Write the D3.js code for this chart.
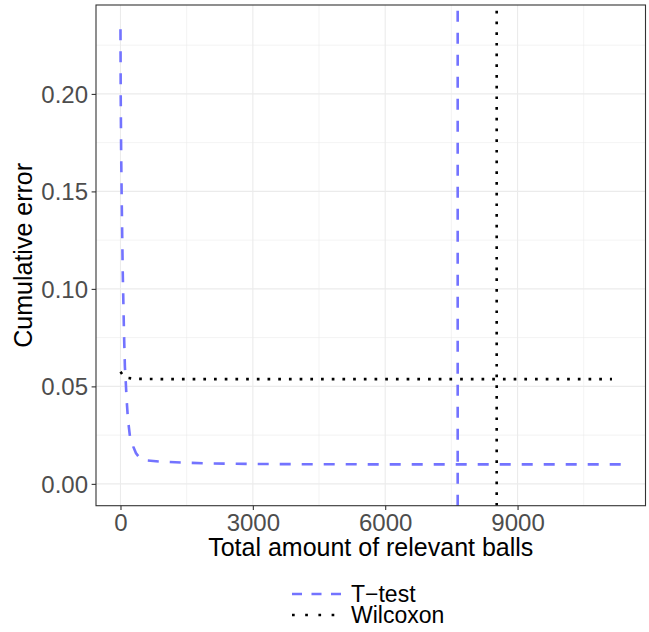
<!DOCTYPE html>
<html>
<head>
<meta charset="utf-8">
<script src="https://cdn.jsdelivr.net/npm/d3@7"></script>
<style>
  html, body { margin: 0; padding: 0; background: #fff; }
  svg { display: block; font-family: "Liberation Sans", Arial, sans-serif; }
</style>
</head>
<body>
<svg id="chart" width="649" height="632"></svg>
<script>
// Cumulative error vs. total number of relevant balls
const ttestN   = [0, 5, 15, 30, 50, 80, 100, 120, 140, 170, 215, 290, 350, 440, 600, 900, 1400, 2000, 3000, 4000, 6000, 8000, 10000, 11340];
const ttestErr = [0.2332, 0.200, 0.170, 0.142, 0.110, 0.077, 0.060, 0.052, 0.043, 0.033, 0.0242, 0.0191, 0.0158, 0.0131, 0.0120, 0.0114, 0.0109, 0.0105, 0.0102, 0.0101, 0.0100, 0.0100, 0.0100, 0.0100];

const wilcoxonN   = [0, 60, 120, 300, 1000, 5000, 11140];
const wilcoxonErr = [0.0575, 0.0556, 0.0545, 0.0539, 0.0537, 0.0537, 0.0537];

// stopping points (vertical reference lines)
const ttestStop = 7643;
const wilcoxonStop = 8527;

const xTicks = [0, 3000, 6000, 9000];
const xMinor = [1500, 4500, 7500, 10500];
const yTicks = [0, 0.05, 0.10, 0.15, 0.20];
const yMinor = [0.025, 0.075, 0.125, 0.175, 0.225];

const seriesNames = ["T\u2212test", "Wilcoxon"];
const xTitle = "Total amount of relevant balls";
const yTitle = "Cumulative error";

const blue = "#7373ff";

const svg = d3.select("#chart");
const panel = { left: 96, right: 645.5, top: 5, bottom: 505.7 };

const x = d3.scaleLinear().domain([-555, 11900]).range([panel.left, panel.right]);
const y = d3.scaleLinear().domain([-0.0112, 0.2456]).range([panel.bottom, panel.top]);

// grid
const grid = svg.append("g");
grid.selectAll(".xminor").data(xMinor).join("line")
  .attr("x1", d => x(d)).attr("x2", d => x(d))
  .attr("y1", panel.top).attr("y2", panel.bottom)
  .attr("stroke", "#ebebeb").attr("stroke-width", 0.6);
grid.selectAll(".yminor").data(yMinor).join("line")
  .attr("y1", d => y(d)).attr("y2", d => y(d))
  .attr("x1", panel.left).attr("x2", panel.right)
  .attr("stroke", "#ebebeb").attr("stroke-width", 0.6);
grid.selectAll(".xmajor").data(xTicks).join("line")
  .attr("x1", d => x(d)).attr("x2", d => x(d))
  .attr("y1", panel.top).attr("y2", panel.bottom)
  .attr("stroke", "#ebebeb").attr("stroke-width", 1.1);
grid.selectAll(".ymajor").data(yTicks).join("line")
  .attr("y1", d => y(d)).attr("y2", d => y(d))
  .attr("x1", panel.left).attr("x2", panel.right)
  .attr("stroke", "#ebebeb").attr("stroke-width", 1.1);

const line = d3.line().x(d => x(d[0])).y(d => y(d[1]));

const plot = svg.append("g");
// T-test curve
plot.append("path")
  .datum(d3.zip(ttestN, ttestErr))
  .attr("d", line)
  .attr("fill", "none").attr("stroke", blue)
  .attr("stroke-width", 2.6).attr("stroke-dasharray", "11 11");
// Wilcoxon curve
plot.append("path")
  .datum(d3.zip(wilcoxonN, wilcoxonErr))
  .attr("d", line)
  .attr("fill", "none").attr("stroke", "#000")
  .attr("stroke-width", 2.6).attr("stroke-dasharray", "2.7 8");
// vertical stopping lines, drawn bottom to top
plot.append("line")
  .attr("x1", x(ttestStop)).attr("x2", x(ttestStop))
  .attr("y1", panel.bottom).attr("y2", panel.top)
  .attr("stroke", blue).attr("stroke-width", 2.6).attr("stroke-dasharray", "11 11");
plot.append("line")
  .attr("x1", x(wilcoxonStop)).attr("x2", x(wilcoxonStop))
  .attr("y1", panel.bottom).attr("y2", panel.top)
  .attr("stroke", "#000").attr("stroke-width", 2.6).attr("stroke-dasharray", "2.7 8");

// panel border
svg.append("rect")
  .attr("x", panel.left).attr("y", panel.top)
  .attr("width", panel.right - panel.left).attr("height", panel.bottom - panel.top)
  .attr("fill", "none").attr("stroke", "#333333").attr("stroke-width", 1.1);

// axes
const xAxis = d3.axisBottom(x).tickValues(xTicks).tickFormat(d3.format("d")).tickSize(4.4).tickSizeOuter(0).tickPadding(3);
const gx = svg.append("g").attr("transform", `translate(0,${panel.bottom})`).call(xAxis);
gx.select(".domain").remove();
gx.selectAll(".tick line").attr("stroke", "#333333").attr("stroke-width", 1.1);
gx.selectAll(".tick text").attr("fill", "#4d4d4d").attr("font-size", 24)
  .attr("dy", null).attr("y", 25).attr("dominant-baseline", "auto");

const yAxis = d3.axisLeft(y).tickValues(yTicks).tickFormat(d3.format(".2f")).tickSize(4.4).tickSizeOuter(0).tickPadding(3);
const gy = svg.append("g").attr("transform", `translate(${panel.left},0)`).call(yAxis);
gy.select(".domain").remove();
gy.selectAll(".tick line").attr("stroke", "#333333").attr("stroke-width", 1.1);
gy.selectAll(".tick text").attr("fill", "#4d4d4d").attr("font-size", 24)
  .attr("dy", null).attr("dominant-baseline", "central").attr("x", -8);
svg.selectAll(".tick text").attr("font-family", "Liberation Sans, Arial, sans-serif");

// axis titles
svg.append("text")
  .attr("x", (panel.left + panel.right) / 2).attr("y", 556)
  .attr("text-anchor", "middle").attr("font-size", 25).attr("fill", "#000")
  .text(xTitle);
svg.append("text")
  .attr("transform", `translate(32,${(panel.top + panel.bottom) / 2}) rotate(-90)`)
  .attr("text-anchor", "middle").attr("font-size", 25).attr("fill", "#000")
  .text(yTitle);

// legend
const legend = svg.append("g");
const keys = [
  { name: seriesNames[0], color: blue, dash: "10 9.5", yPos: 594 },
  { name: seriesNames[1], color: "#000", dash: "2.7 10.5", yPos: 615 }
];
keys.forEach(k => {
  legend.append("line")
    .attr("x1", 292).attr("x2", 342).attr("y1", k.yPos).attr("y2", k.yPos)
    .attr("stroke", k.color).attr("stroke-width", 2.6).attr("stroke-dasharray", k.dash);
  legend.append("text")
    .attr("x", 351).attr("y", k.yPos).attr("dominant-baseline", "central")
    .attr("font-size", 23).attr("fill", "#000").text(k.name);
});
</script>
</body>
</html>
